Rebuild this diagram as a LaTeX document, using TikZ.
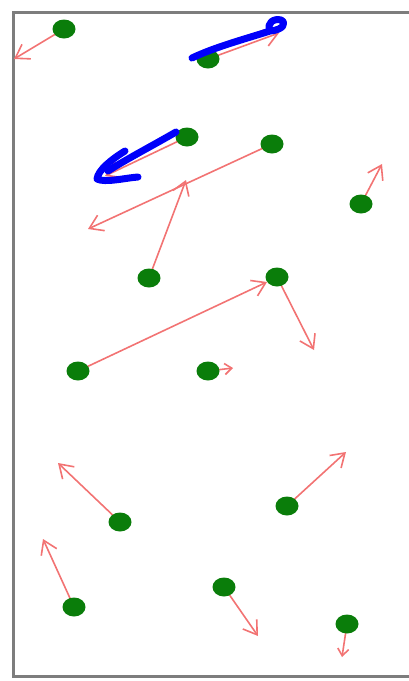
\documentclass[tikz,border=0pt]{standalone}
\usetikzlibrary{arrows.meta,shapes.geometric}
\definecolor{dotgreen}{RGB}{10,125,10}
\definecolor{vecred}{RGB}{242,115,115}
\definecolor{framegray}{RGB}{125,125,125}
\definecolor{penblue}{RGB}{0,0,250}
\tikzset{
  dot/.style={ellipse,fill=dotgreen,draw=none,minimum width=23pt,minimum height=19pt,inner sep=0pt},
  vec/.style={draw=vecred,line width=1.6pt,-{Straight Barb[length=13pt,width=17pt,line width=1.6pt]}},
  smallvec/.style={draw=vecred,line width=1.6pt,-{Straight Barb[length=7pt,width=11pt,line width=1.6pt]}},
  pen/.style={draw=penblue,line width=7pt,line cap=round,line join=round},
}
\begin{document}
\begin{tikzpicture}[x=1pt,y=-1pt]
\useasboundingbox (0,0) rectangle (409,681);
% frame
\draw[framegray,line width=3pt] (416,12) -- (13,12) -- (13,676) -- (416,676);
% particle positions
\path
  (64,29)   coordinate (p1)
  (208,59)  coordinate (p2)
  (187,137) coordinate (p3)
  (272,144) coordinate (p4)
  (361,204) coordinate (p5)
  (149,278) coordinate (p6)
  (277,277) coordinate (p7)
  (78,371)  coordinate (p8)
  (208,371) coordinate (p9)
  (120,522) coordinate (p10)
  (287,506) coordinate (p11)
  (74,607)  coordinate (p12)
  (224,587) coordinate (p13)
  (347,624) coordinate (p14);
% velocity end points
\path
  (14,59)   coordinate (v1)
  (279,33)  coordinate (v2)
  (105,176) coordinate (v3)
  (88,229)  coordinate (v4)
  (382,164) coordinate (v5)
  (186,180) coordinate (v6)
  (314,350) coordinate (v7)
  (267,282) coordinate (v8)
  (233,368) coordinate (v9)
  (58,463)  coordinate (v10)
  (346,452) coordinate (v11)
  (43,539)  coordinate (v12)
  (258,636) coordinate (v13)
  (342,657) coordinate (v14);
% velocity vectors
\foreach \i in {1,2,3,4,5,6,7,8,10,11,12,13}
  \draw[vec] (p\i) -- (v\i);
\draw[smallvec] (p9) -- (v9);
\draw[smallvec] (p14) -- (v14);
% particles
\foreach \i in {1,...,14}
  \node[dot] (n\i) at (p\i) {};
% hand-drawn blue arrows
\draw[pen] (192,58) .. controls (215,47) and (245,39) .. (270,31)
  .. controls (266,23) and (274,18) .. (281,20)
  .. controls (287,23) and (283,30) .. (270,31);
\draw[pen] (176,132) .. controls (150,147) and (125,160) .. (108,171);
\draw[pen] (125,151) .. controls (112,159) and (98,170) .. (97,179)
  .. controls (105,183) and (125,178) .. (138,177);
\end{tikzpicture}
\end{document}
